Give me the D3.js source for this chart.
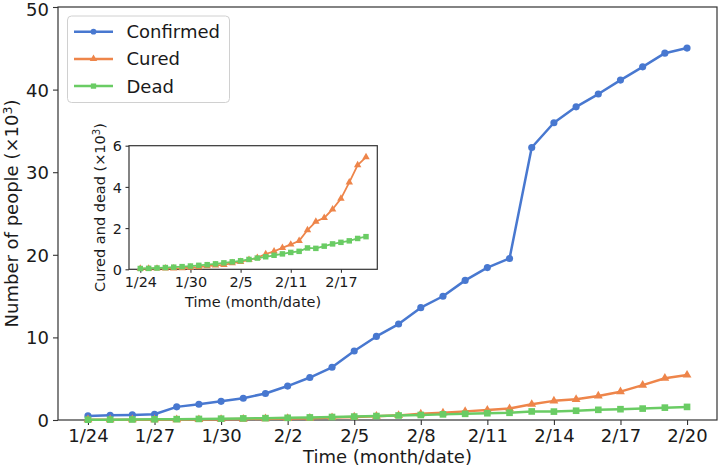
<!DOCTYPE html>
<html>
<head>
<meta charset="utf-8">
<script src="https://cdn.jsdelivr.net/npm/d3@7"></script>
<style>
  body { margin: 0; background: #fff; }
  svg { display: block; font-family: "DejaVu Sans", sans-serif; }
</style>
</head>
<body>
<div id="chart"></div>
<script>
// data (x10^3 people)
const dates = ["1/24", "1/25", "1/26", "1/27", "1/28", "1/29", "1/30", "1/31", "2/1", "2/2",
    "2/3", "2/4", "2/5", "2/6", "2/7", "2/8", "2/9", "2/10", "2/11", "2/12",
    "2/13", "2/14", "2/15", "2/16", "2/17", "2/18", "2/19", "2/20"];
const confirmed = [0.495, 0.572, 0.618, 0.698, 1.590, 1.905, 2.261, 2.639, 3.215, 4.109,
    5.142, 6.384, 8.351, 10.117, 11.618, 13.603, 14.982, 16.902, 18.454, 19.558,
    32.994, 35.991, 37.914, 39.462, 41.152, 42.752, 44.412, 45.027];
const cured = [0.032, 0.039, 0.042, 0.044, 0.047, 0.053, 0.083, 0.110, 0.158, 0.189,
    0.215, 0.303, 0.366, 0.466, 0.560, 0.742, 0.869, 1.044, 1.206, 1.380,
    1.905, 2.317, 2.502, 2.915, 3.431, 4.219, 5.060, 5.448];
const dead = [0.038, 0.045, 0.063, 0.085, 0.104, 0.129, 0.159, 0.192, 0.224, 0.265,
    0.313, 0.362, 0.414, 0.478, 0.545, 0.608, 0.681, 0.748, 0.820, 0.872,
    1.036, 1.016, 1.123, 1.233, 1.309, 1.381, 1.497, 1.585];
const mainTicks = ["1/24", "1/27", "1/30", "2/2", "2/5", "2/8", "2/11", "2/14", "2/17", "2/20"];
const insetTicks = ["1/24", "1/30", "2/5", "2/11", "2/17"];
const mainYTicks = [0, 10, 20, 30, 40, 50];
const insetYTicks = [0, 2, 4, 6];

const colors = { confirmed: "#4878d0", cured: "#ee854a", dead: "#6acc64" };
const textColor = "#1a1a1a";
const spineColor = "#333";

const W = 718, H = 468;
const svg = d3.select("#chart").append("svg")
    .attr("width", W).attr("height", H);

// matplotlib-like x margins
const xDomain = [-1.35, 28.35];

function drawAxes(g, box, yDomain, xTicks, yTicks, opts) {
    const x = d3.scaleLinear().domain(xDomain).range([box.left, box.right]);
    const y = d3.scaleLinear().domain(yDomain).range([box.bottom, box.top]);

    g.append("rect")
        .attr("x", box.left).attr("y", box.top)
        .attr("width", box.right - box.left).attr("height", box.bottom - box.top)
        .attr("fill", "#fff");

    const xa = g.append("g")
        .attr("transform", `translate(0,${box.bottom})`)
        .call(d3.axisBottom(x)
            .tickValues(xTicks.map(t => dates.indexOf(t)))
            .tickFormat(i => dates[i])
            .tickSize(opts.tickLen).tickPadding(opts.tickPad).tickSizeOuter(0));
    const ya = g.append("g")
        .attr("transform", `translate(${box.left},0)`)
        .call(d3.axisLeft(y)
            .tickValues(yTicks)
            .tickFormat(d3.format("d"))
            .tickSize(opts.tickLen).tickPadding(opts.tickPad).tickSizeOuter(0));

    [xa, ya].forEach(a => {
        a.select(".domain").remove();
        a.selectAll("line").attr("stroke", spineColor).attr("stroke-width", 1.1);
        a.selectAll("text").attr("fill", textColor)
            .style("font-size", opts.fontSize + "px")
            .style("font-family", "DejaVu Sans");
    });
    ya.selectAll("text").attr("dy", "0.36em");

    // frame
    g.append("rect")
        .attr("x", box.left).attr("y", box.top)
        .attr("width", box.right - box.left).attr("height", box.bottom - box.top)
        .attr("fill", "none").attr("stroke", spineColor).attr("stroke-width", 1.2);

    return { x, y, ya };
}

function drawSeries(g, sc, values, color, symbol, size, lw) {
    const line = d3.line()
        .x((d, i) => sc.x(i))
        .y(d => sc.y(d));
    g.append("path")
        .datum(values)
        .attr("d", line)
        .attr("fill", "none")
        .attr("stroke", color)
        .attr("stroke-width", lw)
        .attr("stroke-linejoin", "round");
    g.selectAll(null)
        .data(values)
        .enter().append("path")
        .attr("d", d3.symbol().type(symbol).size(size))
        .attr("transform", (d, i) => `translate(${sc.x(i)},${sc.y(d)})`)
        .attr("fill", color);
}

function labelWithSup(sel, text, size) {
    sel.append("tspan").text(text);
    sel.append("tspan").text("3").attr("dy", -size * 0.33).style("font-size", (size * 0.7) + "px");
    sel.append("tspan").text(")").attr("dy", size * 0.33);
}

// ---- main axes ----
const mainBox = { left: 58, right: 717, top: 7, bottom: 420 };
const mainG = svg.append("g");
const main = drawAxes(mainG, mainBox, [0, 50], mainTicks, mainYTicks,
    { tickLen: 5, tickPad: 4, fontSize: 18 });
// top label sits a little lower in the original, keep it inside the page
main.ya.selectAll("text").filter(d => d === 50).attr("dy", "0.46em");

drawSeries(mainG, main, confirmed, colors.confirmed, d3.symbolCircle, 40, 2.5);
drawSeries(mainG, main, cured, colors.cured, d3.symbolTriangle, 34, 2.5);
drawSeries(mainG, main, dead, colors.dead, d3.symbolSquare, 44, 2.5);

mainG.append("text")
    .attr("x", (mainBox.left + mainBox.right) / 2).attr("y", 463)
    .attr("text-anchor", "middle").attr("fill", textColor)
    .style("font-size", "18px")
    .text("Time (month/date)");

labelWithSup(mainG.append("text")
    .attr("transform", `translate(17.5,${(mainBox.top + mainBox.bottom) / 2}) rotate(-90)`)
    .attr("text-anchor", "middle").attr("fill", textColor)
    .style("font-size", "18px"), "Number of people (×10", 18);

// ---- legend ----
const legend = [
    { name: "Confirmed", color: colors.confirmed, symbol: d3.symbolCircle, size: 26 },
    { name: "Cured", color: colors.cured, symbol: d3.symbolTriangle, size: 24 },
    { name: "Dead", color: colors.dead, symbol: d3.symbolSquare, size: 28 }
];
const lg = svg.append("g");
lg.append("rect")
    .attr("x", 67.5).attr("y", 16).attr("width", 162).attr("height", 86.5)
    .attr("rx", 4).attr("fill", "#fff").attr("fill-opacity", 0.8)
    .attr("stroke", "#d0d0d0").attr("stroke-width", 1);
legend.forEach((d, i) => {
    const cy = 31.7 + i * 27.2;
    lg.append("line")
        .attr("x1", 74).attr("x2", 113).attr("y1", cy).attr("y2", cy)
        .attr("stroke", d.color).attr("stroke-width", 2.5);
    lg.append("path")
        .attr("d", d3.symbol().type(d.symbol).size(d.size))
        .attr("transform", `translate(93.5,${cy})`)
        .attr("fill", d.color);
    lg.append("text")
        .attr("x", 126.5).attr("y", cy + 6.5)
        .attr("fill", textColor).style("font-size", "18px")
        .text(d.name);
});

// ---- inset axes ----
const insetBox = { left: 129, right: 377.3, top: 145.7, bottom: 269.3 };
const insetG = svg.append("g");
const inset = drawAxes(insetG, insetBox, [0, 6], insetTicks, insetYTicks,
    { tickLen: 3.5, tickPad: 3.5, fontSize: 14.4 });

drawSeries(insetG, inset, cured, colors.cured, d3.symbolTriangle, 24, 1.8);
drawSeries(insetG, inset, dead, colors.dead, d3.symbolSquare, 30, 1.8);

insetG.append("text")
    .attr("x", (insetBox.left + insetBox.right) / 2).attr("y", 306.5)
    .attr("text-anchor", "middle").attr("fill", textColor)
    .style("font-size", "14.5px")
    .text("Time (month/date)");

labelWithSup(insetG.append("text")
    .attr("transform", `translate(105,${(insetBox.top + insetBox.bottom) / 2}) rotate(-90)`)
    .attr("text-anchor", "middle").attr("fill", textColor)
    .style("font-size", "14.5px"), "Cured and dead (×10", 14.5);
</script>
</body>
</html>
